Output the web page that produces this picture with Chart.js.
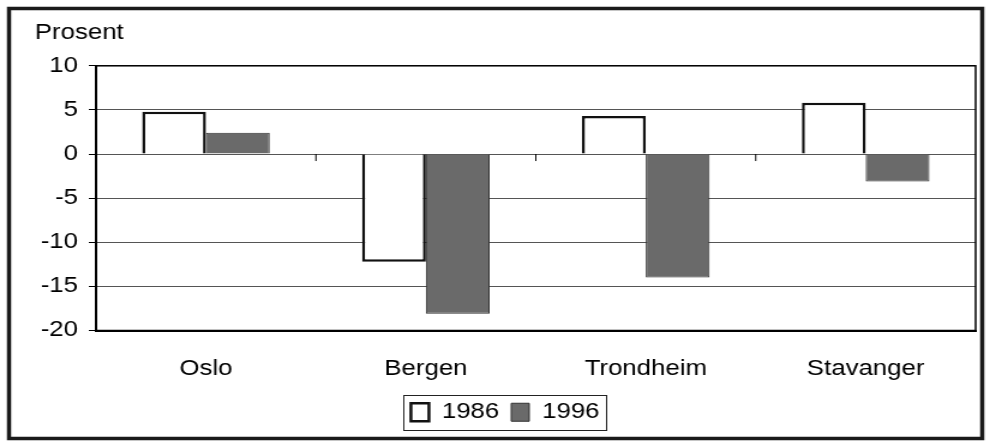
<!DOCTYPE html>
<html>
<head>
<meta charset="utf-8">
<script src="https://cdn.jsdelivr.net/npm/chart.js@4/dist/chart.umd.min.js"></script>
<style>
  html, body { margin: 0; padding: 0; background: #fff; overflow: hidden; }
  /* the scanned chart is stretched sideways, so stretch the canvas the same way */
  #wrap { width: 826px; height: 448px; transform: scaleX(1.2); transform-origin: 0 0; }
</style>
</head>
<body>
<div id="wrap"><canvas id="chart" width="826" height="448"></canvas></div>
<script>
const cities = ["Oslo", "Bergen", "Trondheim", "Stavanger"];
const years = ["1986", "1996"];
const change1986 = [4.8, -12.2, 4.3, 5.8];
const change1996 = [2.4, -18.1, -14.0, -3.1];
const yTicks = [-20, -15, -10, -5, 0, 5, 10];

const FONT = "'Liberation Sans', Arial, sans-serif";

//! extra drawing: outer frame, plot frame, zero-line ticks, legend box
const decorations = {
  id: "decorations",
  beforeDraw(chart) {
    const ctx = chart.ctx;
    ctx.save();
    ctx.fillStyle = "#fff";
    ctx.fillRect(0, 0, chart.width, chart.height);
    ctx.restore();
  },
  afterDraw(chart) {
    const { ctx, chartArea: a, scales } = chart;
    ctx.save();
    ctx.strokeStyle = "#1a1a1a";
    ctx.lineWidth = 3.5;
    ctx.strokeRect(7.5, 8.5, 811, 430);

    ctx.strokeStyle = "#000";
    ctx.lineWidth = 1.5;
    ctx.strokeRect(a.left, a.top, a.right - a.left, a.bottom - a.top);

    // small category ticks on the zero line
    const y0 = scales.y.getPixelForValue(0);
    ctx.lineWidth = 1;
    for (let i = 0; i < cities.length - 1; i++) {
      const xm = (scales.x.getPixelForValue(i) + scales.x.getPixelForValue(i + 1)) / 2;
      ctx.beginPath();
      ctx.moveTo(xm, y0);
      ctx.lineTo(xm, y0 + 7);
      ctx.stroke();
    }

    // legend border
    const boxes = chart.legend.legendHitBoxes;
    if (boxes && boxes.length) {
      const left = Math.min(...boxes.map(b => b.left)) - 6;
      const right = Math.max(...boxes.map(b => b.left + b.width)) + 6;
      const cy = boxes[0].top + boxes[0].height / 2;
      ctx.lineWidth = 1;
      ctx.strokeStyle = "#222";
      ctx.strokeRect(Math.round(left) + 0.5, Math.round(cy - 17.5) + 0.5, Math.round(right - left), 35);
    }
    ctx.restore();
  },
};

new Chart(document.getElementById("chart"), {
  type: "bar",
  data: {
    labels: cities,
    datasets: [
      {
        label: years[0],
        data: change1986,
        backgroundColor: "#ffffff",
        borderColor: "#111111",
        borderWidth: 2.5,
      },
      {
        label: years[1],
        data: change1996,
        backgroundColor: "#6a6a6a",
        borderColor: "#333333",
        borderWidth: 1,
      },
    ],
  },
  options: {
    responsive: false,
    animation: false,
    devicePixelRatio: 1,
    categoryPercentage: 0.58,
    barPercentage: 1,
    layout: {
      padding: { left: 29, right: 13, top: 20, bottom: 15 },
    },
    scales: {
      x: {
        grid: { display: false, drawTicks: false },
        border: { display: true, color: "#000", width: 2 },
        ticks: {
          color: "#000",
          padding: 26,
          font: { family: FONT, size: 21.5 },
        },
        afterFit(scale) {
          scale.height = 61;
        },
      },
      y: {
        min: yTicks[0],
        max: yTicks[yTicks.length - 1],
        grid: {
          color: "#555",
          lineWidth: 1,
          drawTicks: true,
          tickLength: 6,
          tickColor: "#000",
        },
        border: { display: true, color: "#000", width: 2 },
        ticks: {
          stepSize: 5,
          color: "#000",
          padding: 9,
          font: { family: FONT, size: 21.5 },
        },
        afterBuildTicks(scale) {
          scale.ticks = yTicks.map(v => ({ value: v }));
        },
        afterFit(scale) {
          scale.width = 51;
        },
      },
    },
    plugins: {
      title: {
        display: true,
        text: "Prosent",
        align: "start",
        color: "#000",
        font: { family: FONT, size: 21.5, weight: "normal" },
        padding: { top: 0, bottom: 20 },
      },
      legend: {
        display: true,
        position: "bottom",
        labels: {
          color: "#000",
          boxWidth: 15,
          boxHeight: 18,
          padding: 10,
          font: { family: FONT, size: 21.5 },
        },
      },
      tooltip: { enabled: false },
    },
  },
  plugins: [decorations],
});
</script>
</body>
</html>
